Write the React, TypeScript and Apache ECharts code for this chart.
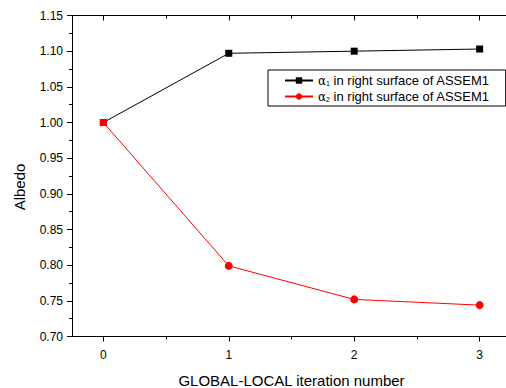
import React, { useEffect, useRef } from "react";
import * as echarts from "echarts";

const iterations = [0, 1, 2, 3];
const alpha1Values = [1.0, 1.097, 1.1, 1.103];
const alpha2Values = [1.0, 0.799, 0.752, 0.744];
const seriesNames = ["α1 in right surface of ASSEM1", "α2 in right surface of ASSEM1"];
const xMajorTicks = [0, 1, 2, 3];
const xMinorTicks = [0.5, 1.5, 2.5];
const xTitle = "GLOBAL-LOCAL iteration number";
const yTitle = "Albedo";

const FONT = "'Liberation Sans', Arial, sans-serif";

export default function App() {
  const ref = useRef<HTMLDivElement>(null);
  useEffect(() => {
    if (!ref.current) return;
    const chart = echarts.init(ref.current, undefined, { renderer: "svg" });
    const xCommon = {
      type: "value" as const,
      min: -0.25,
      max: 3.25,
      splitLine: { show: false },
    };
    const option: any = {
      animation: false,
      backgroundColor: "#fff",
      textStyle: { fontFamily: FONT },
      grid: { left: 72, top: 15.5, width: 439, bottom: 51.5, outerBoundsMode: "none", containLabel: false },
      legend: {
        orient: "vertical",
        left: 268,
        top: 70,
        borderColor: "#000",
        borderWidth: 1,
        padding: [4, 16, 3, 16],
        itemWidth: 28,
        itemHeight: 8,
        itemGap: 3,
        selectedMode: false,
        data: seriesNames,
        formatter: (name: string) => {
          const i = seriesNames.indexOf(name) + 1;
          return `{g|α}{s|${i}}{t| in right surface of ASSEM1}`;
        },
        textStyle: {
          fontFamily: FONT,
          fontSize: 13,
          color: "#000",
          rich: {
            g: { fontFamily: "'DejaVu Serif', serif", fontSize: 12, color: "#000" },
            s: { fontFamily: FONT, fontSize: 7, color: "#000", verticalAlign: "bottom", padding: [6, 0, 0, 0] },
            t: { fontFamily: FONT, fontSize: 13, color: "#000" },
          },
        },
      },
      xAxis: [
        {
          ...xCommon,
          position: "bottom",
          name: xTitle,
          nameLocation: "middle",
          nameGap: 36,
          nameTextStyle: { fontFamily: FONT, fontSize: 15, color: "#000" },
          axisLine: { show: true, onZero: false, lineStyle: { color: "#000", width: 1 } },
          axisTick: { show: true, customValues: xMajorTicks, length: 5, inside: false, lineStyle: { color: "#000" } },
          axisLabel: { customValues: xMajorTicks, margin: 12, fontFamily: FONT, fontSize: 12, color: "#000" },
        },
        {
          ...xCommon,
          position: "bottom",
          axisLine: { show: false, onZero: false },
          axisTick: { show: true, customValues: xMinorTicks, length: 3, inside: false, lineStyle: { color: "#000" } },
          axisLabel: { show: false },
        },
        {
          ...xCommon,
          position: "top",
          axisLine: { show: true, onZero: false, lineStyle: { color: "#000", width: 1 } },
          axisTick: { show: true, customValues: xMajorTicks, length: 5, inside: true, lineStyle: { color: "#000" } },
          axisLabel: { show: false },
        },
        {
          ...xCommon,
          position: "top",
          axisLine: { show: false, onZero: false },
          axisTick: { show: true, customValues: xMinorTicks, length: 3, inside: true, lineStyle: { color: "#000" } },
          axisLabel: { show: false },
        },
      ],
      yAxis: [
        {
          type: "value",
          position: "left",
          min: 0.7,
          max: 1.15,
          interval: 0.05,
          splitLine: { show: false },
          axisLine: { show: true, onZero: false, lineStyle: { color: "#000", width: 1 } },
          axisTick: { show: true, length: 5, inside: false, lineStyle: { color: "#000" } },
          minorTick: { show: true, splitNumber: 2, length: 3, lineStyle: { color: "#000" } },
          axisLabel: {
            margin: 9,
            fontFamily: FONT,
            fontSize: 12,
            color: "#000",
            formatter: (v: number) => v.toFixed(2),
          },
        },
        {
          type: "value",
          position: "right",
          min: 0.7,
          max: 1.15,
          interval: 0.05,
          splitLine: { show: false },
          axisLine: { show: true, onZero: false, lineStyle: { color: "#000", width: 1 } },
          axisTick: { show: true, length: 4, inside: true, lineStyle: { color: "#000" } },
          axisLabel: { show: false },
        },
      ],
      graphic: [
        {
          type: "text",
          x: 19.5,
          y: 187,
          rotation: Math.PI / 2,
          style: {
            text: yTitle,
            fontFamily: FONT,
            fontSize: 15,
            fill: "#000",
            align: "center",
            verticalAlign: "middle",
          },
        },
      ],
      series: [
        {
          name: seriesNames[0],
          type: "line",
          xAxisIndex: 0,
          yAxisIndex: 0,
          data: iterations.map((x, i) => [x, alpha1Values[i]]),
          symbol: "rect",
          symbolSize: 7,
          lineStyle: { color: "#000", width: 1 },
          itemStyle: { color: "#000" },
          z: 2,
        },
        {
          name: seriesNames[1],
          type: "line",
          xAxisIndex: 0,
          yAxisIndex: 0,
          data: iterations.map((x, i) =>
            i === 0 ? { value: [x, alpha2Values[i]], symbol: "rect", symbolSize: 7 } : [x, alpha2Values[i]]
          ),
          symbol: "circle",
          symbolSize: 8,
          lineStyle: { color: "#ff0000", width: 1 },
          itemStyle: { color: "#ff0000" },
          z: 3,
        },
      ],
    };
    chart.setOption(option);
    return () => chart.dispose();
  }, []);
  return (
    <div
      ref={ref}
      style={{ position: "fixed", left: 0, top: 0, width: 506, height: 388, background: "#fff" }}
    />
  );
}
